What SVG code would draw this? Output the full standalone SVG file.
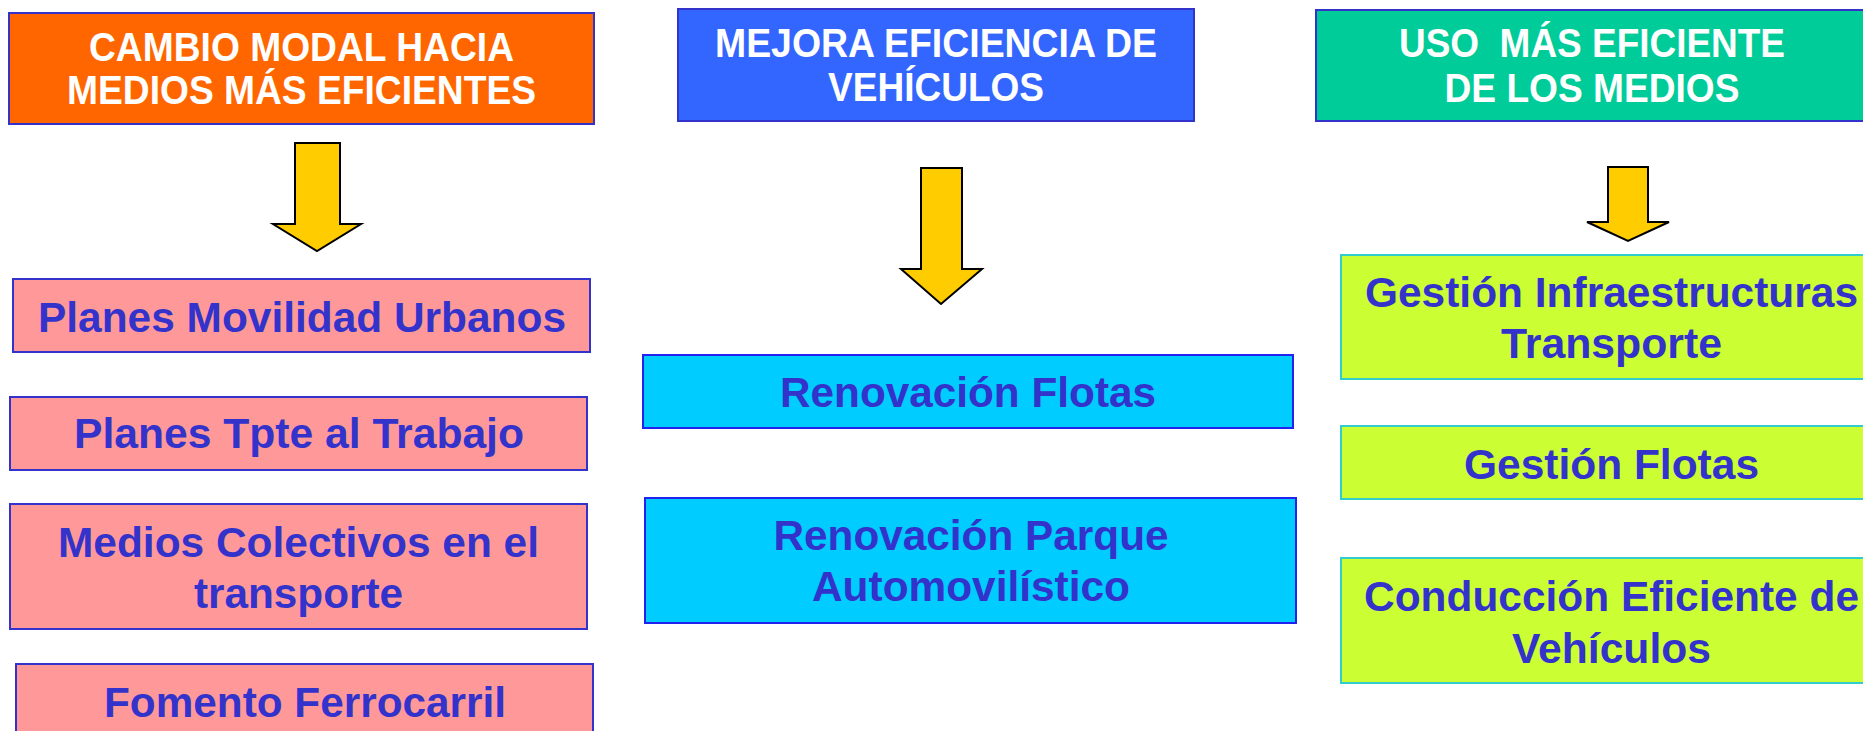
<svg xmlns="http://www.w3.org/2000/svg" width="1863" height="731" viewBox="0 0 1863 731">
<style>
  .hdr { stroke: #3333CC; stroke-width: 2; }
  .pink { fill: #FF9999; stroke: #3333CC; stroke-width: 2; }
  .cyan { fill: #00CCFF; stroke: #2222EE; stroke-width: 2; }
  .lime { fill: #CCFF33; stroke: #33CCCC; stroke-width: 2; }
  .ht { font-family: "Liberation Sans", Arial, sans-serif; font-weight: bold; font-size: 40px; fill: #FFFFFF; text-anchor: middle; white-space: pre; }
  .bt { font-family: "Liberation Sans", Arial, sans-serif; font-weight: bold; font-size: 42px; fill: #3333CC; text-anchor: middle; }
  .arrow { fill: #FFCC00; stroke: #000000; stroke-width: 2; stroke-linejoin: miter; }
</style>
<rect width="1863" height="731" fill="#FFFFFF"/>

<g id="h1">
  <rect class="hdr" x="9" y="13" width="585" height="111" fill="#FF6600"/>
  <text class="ht" x="301.5" y="61" textLength="425" lengthAdjust="spacingAndGlyphs">CAMBIO MODAL HACIA</text>
  <text class="ht" x="301.5" y="104" textLength="469" lengthAdjust="spacingAndGlyphs">MEDIOS MÁS EFICIENTES</text>
</g>
<g id="h2">
  <rect class="hdr" x="678" y="9" width="516" height="112" fill="#3366FF"/>
  <text class="ht" x="936" y="57" textLength="442" lengthAdjust="spacingAndGlyphs">MEJORA EFICIENCIA DE</text>
  <text class="ht" x="936" y="101" textLength="216" lengthAdjust="spacingAndGlyphs">VEHÍCULOS</text>
</g>
<g id="h3">
  <rect class="hdr" x="1316" y="10" width="560" height="111" fill="#00CC99"/>
  <text class="ht" x="1592" y="57" textLength="386" lengthAdjust="spacingAndGlyphs" xml:space="preserve">USO  MÁS EFICIENTE</text>
  <text class="ht" x="1592" y="102" textLength="295" lengthAdjust="spacingAndGlyphs">DE LOS MEDIOS</text>
</g>

<g id="connectors">
  <polygon class="arrow" points="295,143 340,143 340,224 361,224 317,251 273,224 295,224"/>
  <polygon class="arrow" points="921,168 962,168 962,269 982,269 941,304 901,269 921,269"/>
  <polygon class="arrow" points="1608,167 1648,167 1648,222 1669,222 1628,241 1587,222 1608,222"/>
</g>

<g id="p1">
  <rect class="pink" x="13" y="279" width="577" height="73"/>
  <text class="bt" x="302" y="332" textLength="528" lengthAdjust="spacingAndGlyphs">Planes Movilidad Urbanos</text>
</g>
<g id="p2">
  <rect class="pink" x="10" y="397" width="577" height="73"/>
  <text class="bt" x="299" y="448" textLength="450" lengthAdjust="spacingAndGlyphs">Planes Tpte al Trabajo</text>
</g>
<g id="p3">
  <rect class="pink" x="10" y="504" width="577" height="125"/>
  <text class="bt" x="298.5" y="557" textLength="481" lengthAdjust="spacingAndGlyphs">Medios Colectivos en el</text>
  <text class="bt" x="298.5" y="608" textLength="209" lengthAdjust="spacingAndGlyphs">transporte</text>
</g>
<g id="p4">
  <rect class="pink" x="16" y="664" width="577" height="90"/>
  <text class="bt" x="305" y="717" textLength="402" lengthAdjust="spacingAndGlyphs">Fomento Ferrocarril</text>
</g>

<g id="c1">
  <rect class="cyan" x="643" y="355" width="650" height="73"/>
  <text class="bt" x="968" y="407" textLength="376" lengthAdjust="spacingAndGlyphs">Renovación Flotas</text>
</g>
<g id="c2">
  <rect class="cyan" x="645" y="498" width="651" height="125"/>
  <text class="bt" x="971" y="550" textLength="395" lengthAdjust="spacingAndGlyphs">Renovación Parque</text>
  <text class="bt" x="971" y="601" textLength="318" lengthAdjust="spacingAndGlyphs">Automovilístico</text>
</g>

<g id="l1">
  <rect class="lime" x="1341" y="255" width="545" height="124"/>
  <text class="bt" x="1611.5" y="307" textLength="493" lengthAdjust="spacingAndGlyphs">Gestión Infraestructuras</text>
  <text class="bt" x="1611.5" y="358" textLength="221" lengthAdjust="spacingAndGlyphs">Transporte</text>
</g>
<g id="l2">
  <rect class="lime" x="1341" y="426" width="545" height="73"/>
  <text class="bt" x="1611.5" y="479" textLength="295" lengthAdjust="spacingAndGlyphs">Gestión Flotas</text>
</g>
<g id="l3">
  <rect class="lime" x="1341" y="558" width="545" height="125"/>
  <text class="bt" x="1611.5" y="611" textLength="495" lengthAdjust="spacingAndGlyphs">Conducción Eficiente de</text>
  <text class="bt" x="1611.5" y="663" textLength="199" lengthAdjust="spacingAndGlyphs">Vehículos</text>
</g>
</svg>
